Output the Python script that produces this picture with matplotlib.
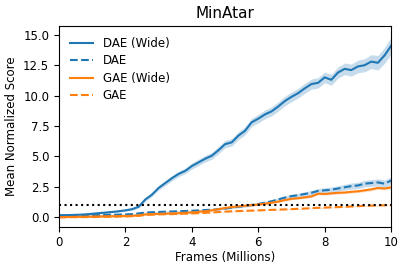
import numpy as np
import matplotlib
matplotlib.use('Agg')
import matplotlib.pyplot as plt

frames = [0.0, 0.2, 0.4, 0.6, 0.8, 1.0, 1.2, 1.4, 1.6, 1.8,
          2.0, 2.2, 2.4, 2.6, 2.8, 3.0, 3.2, 3.4, 3.6, 3.8,
          4.0, 4.2, 4.4, 4.6, 4.8, 5.0, 5.2, 5.4, 5.6, 5.8,
          6.0, 6.2, 6.4, 6.6, 6.8, 7.0, 7.2, 7.4, 7.6, 7.8,
          8.0, 8.2, 8.4, 8.6, 8.8, 9.0, 9.2, 9.4, 9.6, 9.8, 10.0]

dae_wide = [0.15, 0.16, 0.17, 0.19, 0.22, 0.27, 0.32, 0.37, 0.42, 0.48,
            0.55, 0.65, 0.85, 1.45, 1.85, 2.4, 2.8, 3.2, 3.55, 3.8,
            4.2, 4.5, 4.8, 5.05, 5.5, 6.0, 6.15, 6.7, 7.1, 7.8,
            8.1, 8.45, 8.7, 9.1, 9.55, 9.9, 10.2, 10.6, 10.95, 11.05,
            11.5, 11.3, 11.9, 12.2, 12.1, 12.4, 12.5, 12.8, 12.7, 13.3, 14.1]
dae_wide_err = [0.05, 0.05, 0.05, 0.05, 0.06, 0.06, 0.06, 0.07, 0.07, 0.08,
                0.08, 0.09, 0.1, 0.14, 0.15, 0.18, 0.2, 0.21, 0.22, 0.23,
                0.25, 0.26, 0.27, 0.28, 0.29, 0.3, 0.31, 0.32, 0.33, 0.34,
                0.35, 0.36, 0.37, 0.38, 0.39, 0.4, 0.4, 0.41, 0.42, 0.43,
                0.44, 0.45, 0.46, 0.48, 0.5, 0.52, 0.54, 0.57, 0.6, 0.65, 0.7]

dae = [0.1, 0.1, 0.11, 0.12, 0.13, 0.15, 0.16, 0.18, 0.19, 0.2,
       0.22, 0.24, 0.3, 0.37, 0.4, 0.42, 0.44, 0.46, 0.48, 0.5,
       0.52, 0.55, 0.58, 0.6, 0.65, 0.7, 0.78, 0.85, 0.92, 1.0,
       1.08, 1.18, 1.3, 1.45, 1.6, 1.72, 1.8, 1.9, 2.0, 2.15,
       2.2, 2.25, 2.35, 2.45, 2.55, 2.6, 2.75, 2.8, 2.85, 2.75, 3.0]
dae_err = [0.03, 0.03, 0.03, 0.03, 0.03, 0.03, 0.03, 0.04, 0.04, 0.04,
           0.04, 0.04, 0.05, 0.05, 0.05, 0.05, 0.05, 0.06, 0.06, 0.06,
           0.06, 0.07, 0.07, 0.07, 0.08, 0.08, 0.09, 0.09, 0.1, 0.1,
           0.11, 0.12, 0.13, 0.14, 0.15, 0.16, 0.17, 0.18, 0.19, 0.2,
           0.21, 0.22, 0.23, 0.24, 0.25, 0.26, 0.27, 0.28, 0.29, 0.3, 0.32]

gae_wide = [0.0, 0.0, 0.01, 0.02, 0.03, 0.04, 0.05, 0.06, 0.07, 0.08,
            0.09, 0.1, 0.14, 0.22, 0.24, 0.26, 0.28, 0.3, 0.32, 0.35,
            0.38, 0.43, 0.48, 0.55, 0.65, 0.75, 0.82, 0.88, 0.93, 0.98,
            1.03, 1.1, 1.18, 1.27, 1.4, 1.5, 1.55, 1.62, 1.7, 1.92,
            1.9, 1.95, 2.0, 2.02, 2.08, 2.12, 2.2, 2.28, 2.4, 2.35, 2.45]
gae_wide_err = [0.03, 0.03, 0.03, 0.03, 0.03, 0.03, 0.03, 0.03, 0.03, 0.03,
                0.03, 0.03, 0.04, 0.04, 0.04, 0.04, 0.04, 0.04, 0.04, 0.05,
                0.05, 0.05, 0.05, 0.05, 0.06, 0.06, 0.06, 0.06, 0.06, 0.07,
                0.07, 0.07, 0.07, 0.08, 0.08, 0.08, 0.08, 0.09, 0.09, 0.09,
                0.09, 0.1, 0.1, 0.1, 0.1, 0.11, 0.11, 0.11, 0.12, 0.12, 0.12]

gae = [-0.02, -0.02, -0.01, -0.01, 0.0, 0.0, 0.01, 0.02, 0.03, 0.04,
       0.05, 0.07, 0.1, 0.18, 0.2, 0.22, 0.23, 0.24, 0.26, 0.28,
       0.3, 0.32, 0.35, 0.38, 0.41, 0.45, 0.47, 0.49, 0.51, 0.53,
       0.55, 0.57, 0.59, 0.61, 0.63, 0.65, 0.68, 0.7, 0.73, 0.76,
       0.78, 0.8, 0.82, 0.84, 0.87, 0.9, 0.92, 0.94, 0.96, 0.97, 0.98]
gae_err = [0.02] * 25 + [0.03] * 15 + [0.04] * 11

blue = '#1f77b4'
orange = '#ff7f0e'

fig = plt.figure(figsize=(4.07, 2.69), dpi=100)
ax = fig.add_axes([0.145, 0.157, 0.816, 0.745])

series = [
    (dae_wide, dae_wide_err, blue, '-', 'DAE (Wide)'),
    (dae, dae_err, blue, '--', 'DAE'),
    (gae_wide, gae_wide_err, orange, '-', 'GAE (Wide)'),
    (gae, gae_err, orange, '--', 'GAE'),
]
x = np.array(frames)
for mean, err, color, ls, label in series:
    mean = np.array(mean)
    err = np.array(err)
    ax.fill_between(x, mean - err, mean + err, color=color, alpha=0.25, linewidth=0)
    ax.plot(x, mean, color=color, linestyle=ls, linewidth=1.5, label=label)

ax.axhline(1.0, color='black', linestyle=':', linewidth=1.5)

ax.set_xlim(0, 10)
ax.set_ylim(-0.8, 15.7)
ax.set_yticks([0, 2.5, 5, 7.5, 10, 12.5, 15])
ax.tick_params(labelsize=8.5)
ax.set_title('MinAtar', fontsize=11)
ax.set_xlabel('Frames (Millions)', fontsize=8.5, labelpad=1)
ax.set_ylabel('Mean Normalized Score', fontsize=8.5)
ax.legend(loc='upper left', frameon=False, fontsize=8.5, labelspacing=0.38)

fig.savefig('out.png', dpi=100)
